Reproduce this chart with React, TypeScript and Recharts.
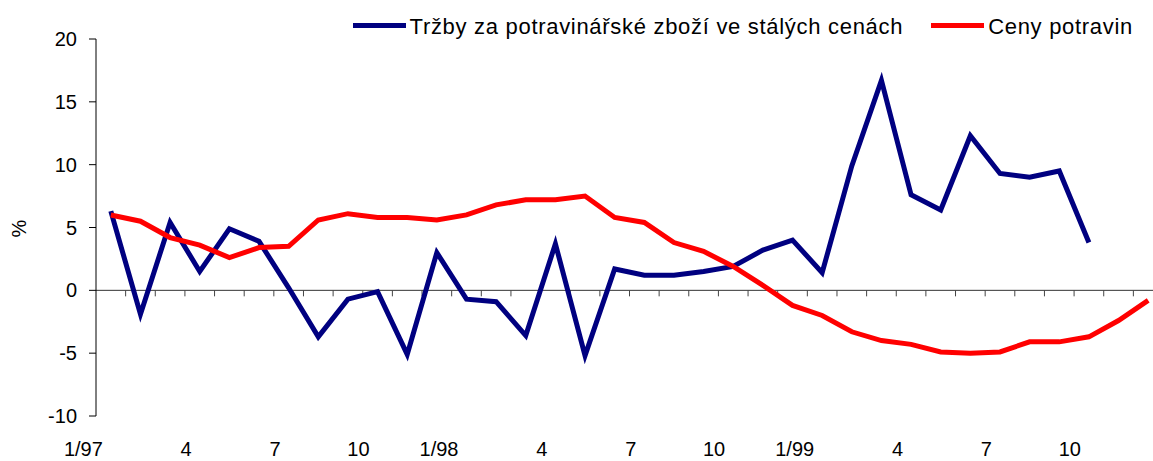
import { LineChart, Line, XAxis, YAxis, Legend, ReferenceLine } from 'recharts';

const months = [
  '1/97', '2', '3', '4', '5', '6', '7', '8', '9', '10', '11', '12',
  '1/98', '2', '3', '4', '5', '6', '7', '8', '9', '10', '11', '12',
  '1/99', '2', '3', '4', '5', '6', '7', '8', '9', '10', '11', '12',
];

const trzby = [
  6.3, -1.9, 5.4, 1.5, 4.9, 3.9, 0.2, -3.7, -0.7, -0.1, -5.1, 3.0,
  -0.7, -0.9, -3.6, 3.7, -5.2, 1.7, 1.2, 1.2, 1.5, 1.9, 3.2, 4.0,
  1.4, 9.9, 16.7, 7.6, 6.4, 12.3, 9.3, 9.0, 9.5, 3.8, null, null,
];

const ceny = [
  6.0, 5.5, 4.2, 3.6, 2.6, 3.4, 3.5, 5.6, 6.1, 5.8, 5.8, 5.6,
  6.0, 6.8, 7.2, 7.2, 7.5, 5.8, 5.4, 3.8, 3.1, 1.9, 0.4, -1.2,
  -2.0, -3.3, -4.0, -4.3, -4.9, -5.0, -4.9, -4.1, -4.1, -3.7, -2.4, -0.8,
];

const yTicks = [-10, -5, 0, 5, 10, 15, 20];

const series = [
  { key: 'trzby', name: 'Tržby za potravinářské zboží ve stálých cenách', color: '#000080' },
  { key: 'ceny', name: 'Ceny potravin', color: '#ff0000' },
];

const data = months.map((m, i) => ({ idx: i, label: m, trzby: trzby[i], ceny: ceny[i] }));

const FONT = '"Liberation Sans", Arial, sans-serif';

function MonthTick(props: any) {
  const { x, y, payload } = props;
  return (
    <text x={x} y={y + 38} dx={-8} textAnchor="end" fontSize={20} fontFamily={FONT} fill="#000">
      {months[payload.value]}
    </text>
  );
}

// zero line with small tick marks on category boundaries
function ZeroLine(props: any) {
  const { x1, y1, x2, y2 } = props;
  const step = (x2 - x1) / months.length;
  const marks = [];
  for (let i = 1; i < months.length; i++) {
    const x = x1 + i * step;
    marks.push(<line key={i} x1={x} x2={x} y1={y1} y2={y1 + 6} stroke="#444" strokeWidth={1} />);
  }
  return (
    <g>
      <line x1={x1} y1={y1} x2={x2} y2={y2} stroke="#333" strokeWidth={1} />
      {marks}
    </g>
  );
}

function PercentLabel(props: any) {
  const { viewBox } = props;
  const cx = viewBox.x + 19;
  const cy = viewBox.y + viewBox.height / 2 + 1;
  return (
    <text
      x={cx}
      y={cy}
      transform={`rotate(-90 ${cx} ${cy})`}
      textAnchor="middle"
      dominantBaseline="central"
      fontSize={20}
      fontFamily={FONT}
      fill="#000"
    >
      %
    </text>
  );
}

function LegendBox() {
  return (
    <div
      style={{
        height: 39,
        display: 'flex',
        justifyContent: 'flex-end',
        alignItems: 'center',
        paddingTop: 14,
        boxSizing: 'border-box',
        paddingRight: 30,
        fontFamily: FONT,
        fontSize: 22,
        letterSpacing: 0.7,
        color: '#000',
        lineHeight: '25px',
      }}
    >
      {series.map((s, i) => (
        <div key={s.key} style={{ display: 'flex', alignItems: 'center', marginLeft: i > 0 ? 28 : 0 }}>
          <div style={{ width: 53, height: 5, background: s.color, marginRight: 4, marginTop: -3 }} />
          <span>{s.name}</span>
        </div>
      ))}
    </div>
  );
}

export default function App() {
  return (
    <div style={{ position: 'absolute', left: 0, top: 0, width: 1153, height: 461, overflow: 'hidden', background: '#fff' }}>
      <LineChart width={1163} height={461} data={data} margin={{ top: 0, right: 0, bottom: 0, left: 0 }}>
        <Legend verticalAlign="top" align="right" content={<LegendBox />} wrapperStyle={{ top: 0, left: 0 }} />
        <XAxis
          dataKey="idx"
          type="category"
          scale="band"
          interval={2}
          axisLine={false}
          tickLine={false}
          tickSize={0}
          height={45}
          tick={<MonthTick />}
        />
        <YAxis
          domain={[-10, 20]}
          ticks={yTicks}
          width={96}
          axisLine={{ stroke: '#000' }}
          tickLine={{ stroke: '#000' }}
          tickSize={7}
          tickMargin={12}
          tick={{ fontSize: 20, fill: '#000', fontFamily: FONT }}
          label={{ content: <PercentLabel /> }}
        />
        <ReferenceLine y={0} shape={<ZeroLine />} />
        {series.map((s) => (
          <Line
            key={s.key}
            dataKey={s.key}
            name={s.name}
            type="linear"
            stroke={s.color}
            strokeWidth={5}
            dot={false}
            activeDot={false}
            isAnimationActive={false}
          />
        ))}
      </LineChart>
    </div>
  );
}
